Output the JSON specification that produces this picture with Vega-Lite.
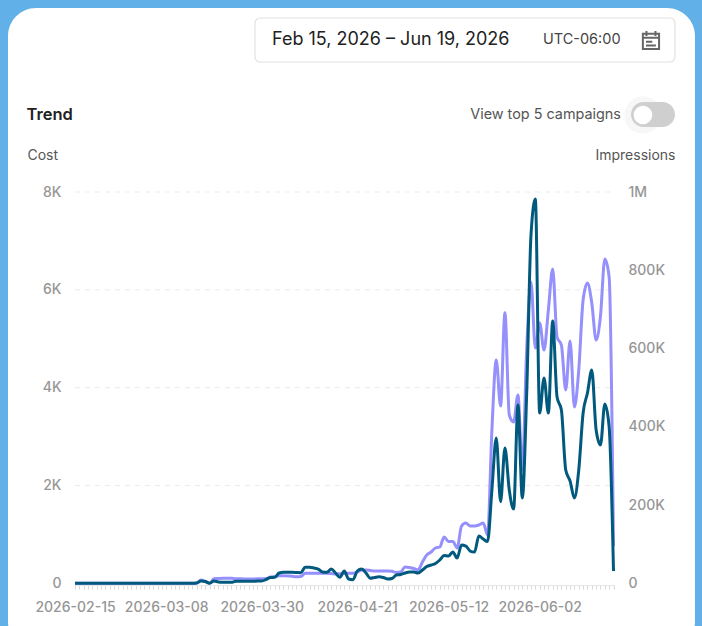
{
"$schema":"https://vega.github.io/schema/vega-lite/v6.json",
"width":702,"height":626,"autosize":{"type":"none"},"padding":0,
"background":"#62b0e8",
"config":{"font":"Inter","view":{"stroke":null},"style":{"guide-label":{"font":"Inter"},"guide-title":{"font":"Inter"}}},
"title":{"text":"Trend","anchor":"start","frame":"group","offset":0,"dx":26.5,"dy":136,"baseline":"alphabetic","fontSize":16.5,"fontWeight":600,"color":"#222222","font":"Inter"},
"datasets":{"trend":[
{"date":"2026-02-15","cost":0,"impressions":0},{"date":"2026-02-16","cost":0,"impressions":0},{"date":"2026-02-17","cost":0,"impressions":0},{"date":"2026-02-18","cost":0,"impressions":0},{"date":"2026-02-19","cost":0,"impressions":0},{"date":"2026-02-20","cost":0,"impressions":0},{"date":"2026-02-21","cost":0,"impressions":0},{"date":"2026-02-22","cost":0,"impressions":0},{"date":"2026-02-23","cost":0,"impressions":0},{"date":"2026-02-24","cost":0,"impressions":0},{"date":"2026-02-25","cost":0,"impressions":0},{"date":"2026-02-26","cost":0,"impressions":0},{"date":"2026-02-27","cost":0,"impressions":0},{"date":"2026-02-28","cost":0,"impressions":0},
{"date":"2026-03-01","cost":0,"impressions":0},{"date":"2026-03-02","cost":0,"impressions":0},{"date":"2026-03-03","cost":0,"impressions":0},{"date":"2026-03-04","cost":0,"impressions":0},{"date":"2026-03-05","cost":0,"impressions":0},{"date":"2026-03-06","cost":0,"impressions":0},{"date":"2026-03-07","cost":0,"impressions":0},{"date":"2026-03-08","cost":0,"impressions":0},{"date":"2026-03-09","cost":0,"impressions":0},{"date":"2026-03-10","cost":0,"impressions":0},{"date":"2026-03-11","cost":0,"impressions":0},{"date":"2026-03-12","cost":0,"impressions":0},{"date":"2026-03-13","cost":0,"impressions":0},{"date":"2026-03-14","cost":0,"impressions":0},
{"date":"2026-03-15","cost":6,"impressions":0},{"date":"2026-03-16","cost":47,"impressions":8400},{"date":"2026-03-17","cost":37,"impressions":4600},{"date":"2026-03-18","cost":0,"impressions":0},{"date":"2026-03-19","cost":47,"impressions":11750},{"date":"2026-03-20","cost":27,"impressions":12260},{"date":"2026-03-21","cost":20,"impressions":12775},{"date":"2026-03-22","cost":20,"impressions":12775},{"date":"2026-03-23","cost":20,"impressions":12775},{"date":"2026-03-24","cost":41,"impressions":11750},{"date":"2026-03-25","cost":41,"impressions":11500},{"date":"2026-03-26","cost":41,"impressions":11240},{"date":"2026-03-27","cost":41,"impressions":10990},{"date":"2026-03-28","cost":41,"impressions":11240},{"date":"2026-03-29","cost":47,"impressions":11500},{"date":"2026-03-30","cost":47,"impressions":11750},{"date":"2026-03-31","cost":78,"impressions":11750},
{"date":"2026-04-01","cost":119,"impressions":16100},{"date":"2026-04-02","cost":123,"impressions":16860},{"date":"2026-04-03","cost":211,"impressions":19420},{"date":"2026-04-04","cost":225,"impressions":19420},{"date":"2026-04-05","cost":225,"impressions":18650},{"date":"2026-04-06","cost":225,"impressions":17890},{"date":"2026-04-07","cost":221,"impressions":16860},{"date":"2026-04-08","cost":217,"impressions":17370},{"date":"2026-04-09","cost":327,"impressions":25550},{"date":"2026-04-10","cost":327,"impressions":25550},{"date":"2026-04-11","cost":313,"impressions":25550},{"date":"2026-04-12","cost":292,"impressions":25550},{"date":"2026-04-13","cost":231,"impressions":25550},{"date":"2026-04-14","cost":225,"impressions":25550},{"date":"2026-04-15","cost":292,"impressions":25040},{"date":"2026-04-16","cost":211,"impressions":23760},{"date":"2026-04-17","cost":123,"impressions":24270},{"date":"2026-04-18","cost":251,"impressions":25040},{"date":"2026-04-19","cost":88,"impressions":25550},{"date":"2026-04-20","cost":74,"impressions":25550},{"date":"2026-04-21","cost":251,"impressions":28870},{"date":"2026-04-22","cost":292,"impressions":33980},{"date":"2026-04-23","cost":211,"impressions":33980},{"date":"2026-04-24","cost":102,"impressions":32700},{"date":"2026-04-25","cost":119,"impressions":31430},{"date":"2026-04-26","cost":135,"impressions":31430},{"date":"2026-04-27","cost":119,"impressions":31430},{"date":"2026-04-28","cost":88,"impressions":31430},{"date":"2026-04-29","cost":98,"impressions":30660},{"date":"2026-04-30","cost":170,"impressions":27590},
{"date":"2026-05-01","cost":180,"impressions":28870},{"date":"2026-05-02","cost":211,"impressions":41650},{"date":"2026-05-03","cost":231,"impressions":40370},{"date":"2026-05-04","cost":231,"impressions":37810},{"date":"2026-05-05","cost":211,"impressions":33980},{"date":"2026-05-06","cost":272,"impressions":54420},{"date":"2026-05-07","cost":343,"impressions":72300},{"date":"2026-05-08","cost":374,"impressions":79970},{"date":"2026-05-09","cost":405,"impressions":90190},{"date":"2026-05-10","cost":476,"impressions":92750},{"date":"2026-05-11","cost":568,"impressions":118300},{"date":"2026-05-12","cost":558,"impressions":106800},{"date":"2026-05-13","cost":640,"impressions":106800},{"date":"2026-05-14","cost":517,"impressions":90190},{"date":"2026-05-15","cost":783,"impressions":146400},{"date":"2026-05-16","cost":762,"impressions":154070},{"date":"2026-05-17","cost":660,"impressions":146400},{"date":"2026-05-18","cost":640,"impressions":146400},{"date":"2026-05-19","cost":967,"impressions":148960},{"date":"2026-05-20","cost":905,"impressions":154070},{"date":"2026-05-21","cost":854,"impressions":123400},{"date":"2026-05-22","cost":1907,"impressions":391680},{"date":"2026-05-23","cost":2970,"impressions":570530},{"date":"2026-05-24","cost":1668,"impressions":453000},{"date":"2026-05-25","cost":2766,"impressions":691380},{"date":"2026-05-26","cost":1907,"impressions":430000},{"date":"2026-05-27","cost":1519,"impressions":412120},{"date":"2026-05-28","cost":3644,"impressions":481100},{"date":"2026-05-29","cost":1744,"impressions":289480},{"date":"2026-05-30","cost":3849,"impressions":596080},{"date":"2026-05-31","cost":7119,"impressions":769820},
{"date":"2026-06-01","cost":7855,"impressions":601190},{"date":"2026-06-02","cost":3481,"impressions":665070},{"date":"2026-06-03","cost":4196,"impressions":596080},{"date":"2026-06-04","cost":3481,"impressions":698280},{"date":"2026-06-05","cost":5361,"impressions":803040},{"date":"2026-06-06","cost":3808,"impressions":629300},{"date":"2026-06-07","cost":3542,"impressions":608860},{"date":"2026-06-08","cost":2316,"impressions":493880},{"date":"2026-06-09","cost":2091,"impressions":619080},{"date":"2026-06-10","cost":1744,"impressions":450450},{"date":"2026-06-11","cost":2316,"impressions":544980},{"date":"2026-06-12","cost":3481,"impressions":723830},{"date":"2026-06-13","cost":3890,"impressions":767270},{"date":"2026-06-14","cost":4360,"impressions":716170},{"date":"2026-06-15","cost":3133,"impressions":621630},{"date":"2026-06-16","cost":2827,"impressions":682950},{"date":"2026-06-17","cost":3665,"impressions":828590},{"date":"2026-06-18","cost":3195,"impressions":782600},{"date":"2026-06-19","cost":251,"impressions":95300}
],
"gridlines":[{"cost":2000},{"cost":4000},{"cost":6000},{"cost":8000}],
"single":[{"n":1}]},
"layer":[
{"layer":[
{"data":{"name":"single"},"mark":{"type":"rect","fill":"#ffffff","cornerRadius":28},
 "encoding":{"x":{"datum":1769780696506,"type":"temporal","axis":null,"scale":{"type":"utc","domain":[1771113600000,1781827200000],"range":[75,613.5]}},"x2":{"datum":1783447930840},
 "y":{"datum":11762,"type":"quantitative","axis":null,"scale":{"domain":[0,8000],"range":[583.3,192],"nice":false,"zero":false}},"y2":{"datum":-1364}}},
{"data":{"name":"single"},"mark":{"type":"rect","fill":"#ffffff","stroke":"#e2e2e2","strokeWidth":1.2,"cornerRadius":5},
 "encoding":{"x":{"datum":1774694534760,"type":"temporal","axis":null},"x2":{"datum":1783050049200},
 "y":{"datum":11557,"type":"quantitative","axis":null},"y2":{"datum":10658}}},
{"data":{"name":"single"},"mark":{"type":"text","text":"Feb 15, 2026 – Jun 19, 2026","align":"left","baseline":"middle","fontSize":18,"color":"#222222","font":"Inter"},
 "encoding":{"x":{"datum":1775032734154,"type":"temporal","axis":null},"y":{"datum":11108,"type":"quantitative","axis":null}}},
{"data":{"name":"single"},"mark":{"type":"text","text":"UTC-06:00","align":"left","baseline":"middle","fontSize":14.5,"color":"#444444","font":"Inter"},
 "encoding":{"x":{"datum":1780424030376,"type":"temporal","axis":null},"y":{"datum":11108,"type":"quantitative","axis":null}}},
{"data":{"name":"single"},"mark":{"type":"point","filled":false,"stroke":"#666666","strokeWidth":2,"opacity":1,"size":324,"shape":"M-0.9,-0.7 H0.9 V1 H-0.9 Z M-0.9,-0.25 H0.9 M-0.5,-1 V-0.45 M0.5,-1 V-0.45 M-0.55,0.2 H0.15 M-0.55,0.6 H0.55"},
 "encoding":{"x":{"datum":1782572591232,"type":"temporal","axis":null},"y":{"datum":11108,"type":"quantitative","axis":null}}},
{"data":{"name":"single"},"mark":{"type":"text","text":"View top 5 campaigns","align":"right","baseline":"middle","fontSize":14.4,"color":"#555555","font":"Inter"},
 "encoding":{"x":{"datum":1781975768772,"type":"temporal","axis":null},"y":{"datum":9574,"type":"quantitative","axis":null}}},
{"data":{"name":"single"},"mark":{"type":"circle","fill":"#f7f7f7","opacity":1,"size":1385},
 "encoding":{"x":{"datum":1782413438576,"type":"temporal","axis":null},"y":{"datum":9574,"type":"quantitative","axis":null}}},
{"data":{"name":"single"},"mark":{"type":"rect","fill":"#cfcfcf","cornerRadius":12.5},
 "encoding":{"x":{"datum":1782174709592,"type":"temporal","axis":null},"x2":{"datum":1783050049200},
 "y":{"datum":9840,"type":"quantitative","axis":null},"y2":{"datum":9329}}},
{"data":{"name":"single"},"mark":{"type":"circle","fill":"#ffffff","opacity":1,"size":346},
 "encoding":{"x":{"datum":1782413438576,"type":"temporal","axis":null},"y":{"datum":9574,"type":"quantitative","axis":null}}},
{"data":{"name":"gridlines"},"mark":{"type":"rule","color":"#ebebeb","strokeWidth":1,"strokeDash":[5,5]},
 "encoding":{"x":{"datum":1771113600000,"type":"temporal","axis":null},
  "x2":{"datum":1781827200000},
  "y":{"field":"cost","type":"quantitative","axis":null}}}
]},
{"data":{"name":"trend"},"mark":{"type":"line","color":"#9590fb","strokeWidth":3,"interpolate":"monotone"},
 "encoding":{"x":{"field":"date","type":"temporal","axis":null},
  "y":{"field":"impressions","type":"quantitative","scale":{"domain":[0,1000000],"range":[583.3,192],"nice":false,"zero":false},
   "axis":{"title":"Impressions","orient":"right","offset":-74,"zindex":1,"values":[0,200000,400000,600000,800000,1000000],"labelExpr":"datum.value === 0 ? '0' : datum.value >= 1000000 ? '1M' : (datum.value / 1000) + 'K'","labelFont":"Inter","labelFontSize":14,"labelFontWeight":500,"labelColor":"#969696","labelPadding":0,"ticks":false,"domain":false,"grid":false,"titleAngle":0,"titleX":47,"titleY":155,"titleAlign":"right","titleBaseline":"middle","titleFont":"Inter","titleFontSize":14,"titleFontWeight":"normal","titleColor":"#555555"}}}},
{"data":{"name":"trend"},"mark":{"type":"line","color":"#015a7e","strokeWidth":3,"interpolate":"monotone"},
 "encoding":{"x":{"field":"date","type":"temporal",
   "axis":{"title":null,"orient":"bottom","offset":-41,"zindex":1,"tickCount":{"interval":"day","step":1},"labelExpr":"indexof(['2026-02-15','2026-03-08','2026-03-30','2026-04-21','2026-05-12','2026-06-02'], utcFormat(datum.value, '%Y-%m-%d')) >= 0 ? utcFormat(datum.value, '%Y-%m-%d') : ''","labelOverlap":false,"labelBound":false,"labelFlush":false,"labelAngle":0,"labelFont":"Inter","labelFontSize":14,"labelFontWeight":500,"labelColor":"#969696","labelPadding":11,"tickSize":4,"tickColor":"#d8d8d8","domainColor":"#e6e6e6","grid":false}},
  "y":{"field":"cost","type":"quantitative","scale":{"domain":[0,8000],"range":[583.3,192],"nice":false,"zero":false},
   "axis":{"title":"Cost","orient":"left","offset":-61,"zindex":1,"values":[0,2000,4000,6000,8000],"labelExpr":"datum.value === 0 ? '0' : (datum.value / 1000) + 'K'","labelFont":"Inter","labelFontSize":14,"labelFontWeight":500,"labelColor":"#969696","labelPadding":0,"ticks":false,"domain":false,"grid":false,"titleAngle":0,"titleX":-34,"titleY":155,"titleAlign":"left","titleBaseline":"middle","titleFont":"Inter","titleFontSize":14,"titleFontWeight":"normal","titleColor":"#555555"}}}}
],
"resolve":{"scale":{"y":"independent"},"axis":{"y":"independent","x":"independent"}}
}
